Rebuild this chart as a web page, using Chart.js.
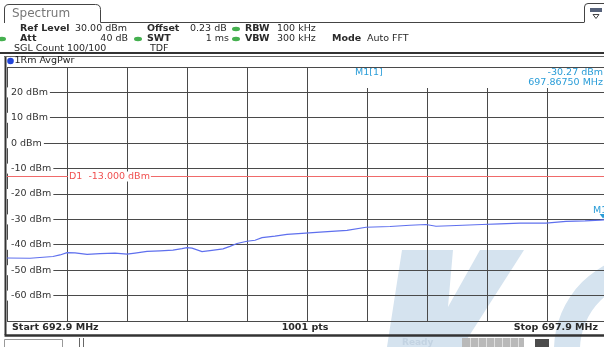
<!DOCTYPE html>
<html lang="en">
<head>
<meta charset="UTF-8">
<title>Spectrum</title>
<script src="https://cdn.jsdelivr.net/npm/chart.js@4.4.1/dist/chart.umd.min.js"></script>
<style>
  html, body { margin: 0; padding: 0; overflow: hidden; background: #fff; }
  canvas { display: block; }
</style>
</head>
<body>
<canvas id="spec" width="612" height="347"></canvas>
<script>
// trace 1 (AvgPwr): frequency in MHz, level in dBm
const freqs = [
  692.900, 693.092, 693.283, 693.342, 693.400, 693.467, 693.567, 693.675, 693.800, 693.900,
  693.967, 694.067, 694.175, 694.283, 694.358, 694.400, 694.442, 694.525, 694.608, 694.700,
  694.758, 694.817, 694.900, 694.967, 695.025, 695.133, 695.233, 695.358, 695.508, 695.733,
  695.892, 696.092, 696.258, 696.392, 696.475, 696.592, 696.858, 697.008, 697.175, 697.392,
  697.558, 697.717, 697.842, 697.900
];
const levels = [
  -45.2, -45.3, -44.6, -44.0, -43.1, -43.2, -43.8, -43.5, -43.3, -43.7,
  -43.3, -42.6, -42.4, -42.1, -41.5, -41.1, -41.3, -42.7, -42.2, -41.6,
  -40.6, -39.5, -38.6, -38.2, -37.2, -36.6, -35.9, -35.5, -35.0, -34.3,
  -33.1, -32.8, -32.3, -32.0, -32.7, -32.5, -32.0, -31.8, -31.5, -31.5,
  -30.8, -30.6, -30.3, -30.1
];

const xTicks = [692.9, 693.4, 693.9, 694.4, 694.9, 695.4, 695.9, 696.4, 696.9, 697.4, 697.9];
const yTicks = [30, 20, 10, 0, -10, -20, -30, -40, -50, -60, -70];
const yLabelVals = [20, 10, 0, -10, -20, -30, -40, -50, -60];

const startFreq = 692.9, stopFreq = 697.9, sweepPoints = 1001;
const refLevel = 30, bottomLevel = -70;
const displayLine = -13.0;
const markerFreq = 697.8675, markerLevel = -30.27;

const FONT = "'DejaVu Sans', sans-serif";
const MARK_BLUE = '#2a9dd8';

function put(ctx, s, x, y, opt) {
  opt = opt || {};
  ctx.font = (opt.bold ? 'bold ' : '') + (opt.size || 9.5) + 'px ' + FONT;
  ctx.fillStyle = opt.color || '#2a2a2a';
  ctx.textAlign = opt.align || 'left';
  ctx.textBaseline = 'middle';
  ctx.fillText(s, x, y);
}

function pill(ctx, x, y) {
  ctx.fillStyle = '#45b04f';
  ctx.beginPath();
  ctx.ellipse(x, y, 4, 2.2, 0, 0, Math.PI * 2);
  ctx.fill();
}

// background, logo watermark
const backdrop = {
  id: 'backdrop',
  beforeDraw(chart) {
    const ctx = chart.ctx;
    ctx.save();
    ctx.fillStyle = '#fff';
    ctx.fillRect(0, 0, chart.width, chart.height);
    ctx.fillStyle = '#d5e3ef';
    ctx.beginPath();
    ctx.moveTo(402, 250); ctx.lineTo(453, 250); ctx.lineTo(448, 307);
    ctx.lineTo(480, 250); ctx.lineTo(524, 250); ctx.lineTo(462, 347);
    ctx.lineTo(387, 347); ctx.closePath();
    ctx.fill();
    ctx.beginPath();
    ctx.arc(650, 350, 96, Math.PI, Math.PI * 1.5);
    ctx.arc(650, 350, 70, Math.PI * 1.5, Math.PI, true);
    ctx.closePath();
    ctx.fill();
    ctx.restore();
  }
};

// frame, header, labels, display line, marker
const overlay = {
  id: 'overlay',
  afterDatasetsDraw(chart) {
    const ctx = chart.ctx, a = chart.chartArea;
    const xs = chart.scales.x, ys = chart.scales.y;
    ctx.save();

    // marker info area hides the grid
    ctx.fillStyle = '#fff';
    ctx.fillRect(350, a.top + 1, 262, 20);
    put(ctx, 'M1[1]', 355, 73, { color: MARK_BLUE });
    put(ctx, markerLevel.toFixed(2) + ' dBm', 603, 73, { color: MARK_BLUE, align: 'right' });
    put(ctx, markerFreq.toFixed(5) + ' MHz', 603, 83, { color: MARK_BLUE, align: 'right' });

    // level labels
    ctx.font = '9.5px ' + FONT;
    yLabelVals.forEach(v => {
      const y = ys.getPixelForValue(v);
      const s = v + ' dBm';
      const w = ctx.measureText(s).width;
      ctx.fillStyle = '#fff';
      ctx.fillRect(6, y - 5, w + 7, 10);
      put(ctx, s, 11, y, { color: '#333' });
    });

    // display line D1
    const dy = Math.round(ys.getPixelForValue(displayLine)) + 0.5;
    ctx.strokeStyle = '#f06a6a';
    ctx.lineWidth = 1;
    ctx.beginPath(); ctx.moveTo(a.left, dy); ctx.lineTo(a.right, dy); ctx.stroke();
    const dl = 'D1  ' + displayLine.toFixed(3) + ' dBm';
    ctx.font = '9.5px ' + FONT;
    ctx.fillStyle = '#fff';
    ctx.fillRect(68, dy - 5, ctx.measureText(dl).width + 2, 10);
    put(ctx, dl, 69, dy, { color: '#f05050' });

    // marker M1
    const mx = xs.getPixelForValue(markerFreq), my = ys.getPixelForValue(markerLevel);
    ctx.fillStyle = MARK_BLUE;
    ctx.beginPath();
    ctx.moveTo(mx - 3.5, my - 6); ctx.lineTo(mx + 3.5, my - 6); ctx.lineTo(mx, my - 1.5);
    ctx.closePath(); ctx.fill();
    put(ctx, 'M1', mx - 10, my - 10, { color: MARK_BLUE });

    // plot frame
    ctx.strokeStyle = '#333';
    ctx.lineWidth = 2;
    ctx.beginPath(); ctx.moveTo(5.5, 56); ctx.lineTo(5.5, 335); ctx.stroke();
    ctx.lineWidth = 2.5;
    ctx.beginPath(); ctx.moveTo(4.5, 335.5); ctx.lineTo(612, 335.5); ctx.stroke();

    // bottom annotation bar
    put(ctx, 'Start ' + startFreq.toFixed(1) + ' MHz', 12, 328, { bold: true });
    put(ctx, sweepPoints + ' pts', 305, 328, { bold: true, align: 'center' });
    put(ctx, 'Stop ' + stopFreq.toFixed(1) + ' MHz', 598, 328, { bold: true, align: 'right' });

    // status strip
    ctx.strokeStyle = '#999';
    ctx.lineWidth = 1;
    ctx.beginPath();
    ctx.moveTo(4.5, 347); ctx.lineTo(4.5, 339.5); ctx.lineTo(62.5, 339.5); ctx.lineTo(62.5, 347);
    ctx.stroke();
    ctx.strokeStyle = '#666';
    ctx.beginPath();
    ctx.moveTo(79.5, 338); ctx.lineTo(79.5, 347); ctx.moveTo(83.5, 338); ctx.lineTo(83.5, 347);
    ctx.stroke();
    put(ctx, 'Ready', 402, 343, { color: '#c3d3e2', bold: true, size: 9 });
    ctx.fillStyle = '#b9b9b9';
    ctx.fillRect(462, 338, 62, 9);
    ctx.strokeStyle = '#e0e0e0';
    ctx.beginPath();
    for (let i = 1; i < 8; i++) { const x = 462.5 + i * 8; ctx.moveTo(x, 338); ctx.lineTo(x, 347); }
    ctx.stroke();
    ctx.fillStyle = '#4c4c4c';
    ctx.fillRect(535, 339, 14, 8);

    // header: tab, settings
    ctx.strokeStyle = '#444';
    ctx.lineWidth = 1;
    ctx.beginPath();
    ctx.moveTo(4.5, 23); ctx.lineTo(4.5, 9); ctx.quadraticCurveTo(4.5, 4.5, 9, 4.5);
    ctx.lineTo(95.5, 4.5); ctx.quadraticCurveTo(100.5, 4.5, 100.5, 9.5); ctx.lineTo(100.5, 22.5);
    ctx.lineTo(584, 22.5);
    ctx.stroke();
    ctx.beginPath();
    ctx.moveTo(584.5, 22.5); ctx.lineTo(584.5, 7); ctx.quadraticCurveTo(584.5, 3.5, 588, 3.5);
    ctx.lineTo(612, 3.5);
    ctx.stroke();
    ctx.fillStyle = '#56627a';
    ctx.fillRect(590, 8, 12, 4);
    ctx.beginPath();
    ctx.moveTo(593, 14.5); ctx.lineTo(599, 14.5); ctx.lineTo(596, 18.5); ctx.closePath();
    ctx.stroke();
    put(ctx, 'Spectrum', 12, 14, { color: '#777', size: 12 });

    ctx.strokeStyle = '#333';
    ctx.lineWidth = 2;
    ctx.beginPath(); ctx.moveTo(0, 53); ctx.lineTo(612, 53); ctx.stroke();
    ctx.strokeStyle = '#666';
    ctx.lineWidth = 1;
    ctx.beginPath(); ctx.moveTo(4, 56.5); ctx.lineTo(612, 56.5); ctx.stroke();

    put(ctx, 'Ref Level', 20, 29, { bold: true });
    put(ctx, refLevel.toFixed(2) + ' dBm', 75, 29);
    put(ctx, 'Offset', 147, 29, { bold: true });
    put(ctx, '0.23 dB', 190, 29);
    pill(ctx, 236, 29);
    put(ctx, 'RBW', 245, 29, { bold: true });
    put(ctx, '100 kHz', 277, 29);

    pill(ctx, 2, 39);
    put(ctx, 'Att', 20, 39, { bold: true });
    put(ctx, '40 dB', 128, 39, { align: 'right' });
    pill(ctx, 138, 39);
    put(ctx, 'SWT', 147, 39, { bold: true });
    put(ctx, '1 ms', 229, 39, { align: 'right' });
    pill(ctx, 236, 39);
    put(ctx, 'VBW', 245, 39, { bold: true });
    put(ctx, '300 kHz', 277, 39);
    put(ctx, 'Mode', 332, 39, { bold: true });
    put(ctx, 'Auto FFT', 367, 39);

    put(ctx, 'SGL Count 100/100', 14, 49);
    put(ctx, 'TDF', 150, 49);

    // trace legend
    ctx.fillStyle = '#2244d8';
    ctx.beginPath(); ctx.arc(10.5, 61, 3.3, 0, Math.PI * 2); ctx.fill();
    put(ctx, '1Rm AvgPwr', 14.5, 61, { color: '#222' });

    ctx.restore();
  }
};

const pts = freqs.map((f, i) => ({ x: f, y: levels[i] }));

new Chart(document.getElementById('spec').getContext('2d'), {
  type: 'line',
  data: {
    datasets: [{
      label: '1Rm AvgPwr',
      data: pts,
      borderColor: '#5f70ee',
      borderWidth: 1.2,
      pointRadius: 0,
      tension: 0
    }]
  },
  options: {
    responsive: false,
    animation: false,
    layout: { padding: { left: 7, right: 5, top: 67, bottom: 26 } },
    plugins: { legend: { display: false }, tooltip: { enabled: false } },
    scales: {
      x: {
        type: 'linear',
        min: startFreq, max: stopFreq,
        afterBuildTicks: s => { s.ticks = xTicks.map(v => ({ value: v })); },
        ticks: { display: false },
        grid: { color: '#4a4a4a', lineWidth: 1, drawTicks: false },
        border: { display: false }
      },
      y: {
        min: bottomLevel, max: refLevel,
        afterBuildTicks: s => { s.ticks = yTicks.map(v => ({ value: v })); },
        ticks: { display: false },
        grid: { color: '#4a4a4a', lineWidth: 1, drawTicks: false },
        border: { display: false }
      }
    }
  },
  plugins: [backdrop, overlay]
});
</script>
</body>
</html>
